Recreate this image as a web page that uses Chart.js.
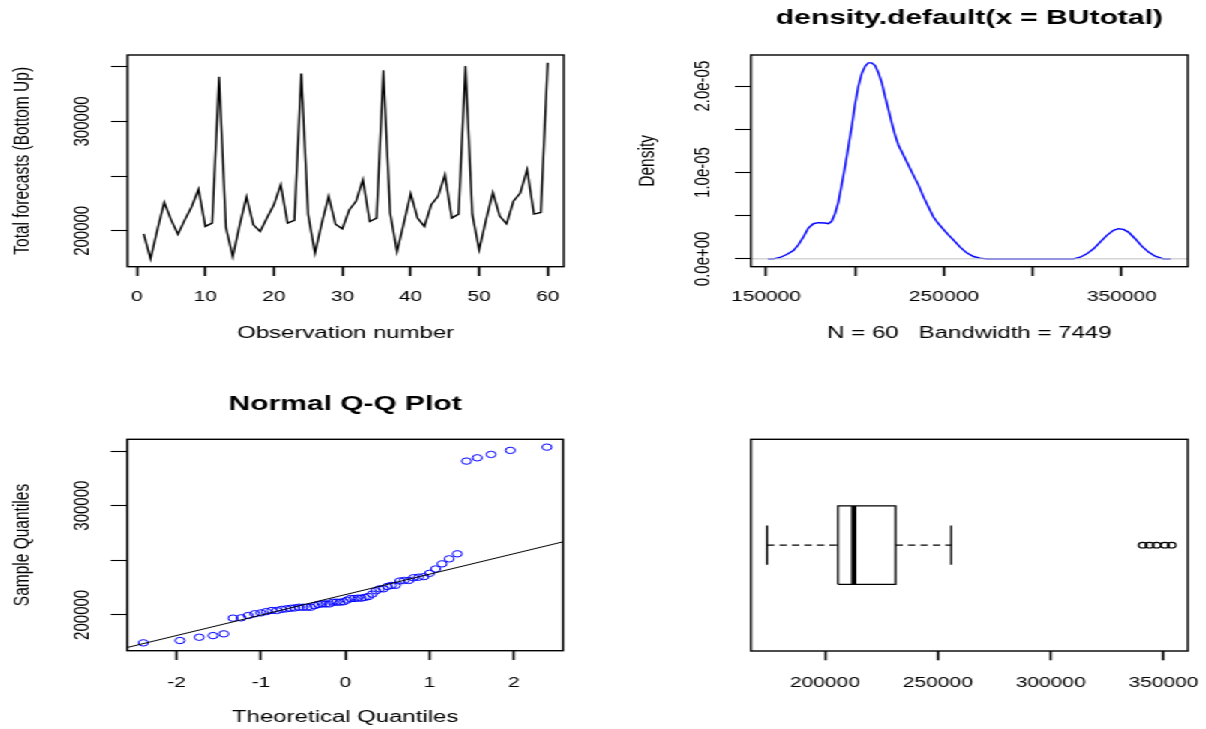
<!DOCTYPE html>
<html><head><meta charset="utf-8">
<script src="https://cdn.jsdelivr.net/npm/chart.js@4.4.1/dist/chart.umd.min.js"></script>
<style>
html,body{margin:0;padding:0;background:#fff;overflow:hidden;width:1206px;height:729px;}
#stage{position:absolute;left:0;top:0;width:804px;height:729px;transform:scaleX(1.5);transform-origin:0 0;}
#stage canvas{position:absolute;}
</style></head><body>
<div id="stage">
<canvas id="c1" width="402" height="364" style="left:0px;top:0px"></canvas>
<canvas id="c2" width="402" height="364" style="left:402px;top:0px"></canvas>
<canvas id="c3" width="402" height="365" style="left:0px;top:364px"></canvas>
<canvas id="c4" width="402" height="365" style="left:402px;top:364px"></canvas>
</div>
<script>
// ---------------- data ----------------
const observation = [1,2,3,4,5,6,7,8,9,10,11,12,13,14,15,16,17,18,19,20,21,22,23,24,25,26,27,28,29,30,
  31,32,33,34,35,36,37,38,39,40,41,42,43,44,45,46,47,48,49,50,51,52,53,54,55,56,57,58,59,60];
const buTotal = [197250,174350,201000,226000,210000,197000,210000,222000,238000,204000,
  207000,340800,203000,176500,205000,231000,205500,199400,212000,223800,
  242000,207000,209500,343800,215000,179500,207000,231500,206000,201800,
  219000,227000,246700,208500,211600,346900,216000,181000,207000,234000,
  211600,204000,223800,231500,251300,211600,215300,350600,215000,182600,
  210000,235000,213500,206400,227000,234500,255900,215300,216800,353600];

const densityX = [151000,154100,157900,161600,165400,168200,171000,173800,176600,179400,183200,185100,186900,188800,190700,
  192500,194400,196300,198200,200000,201900,203800,205700,207500,209400,211300,213200,215100,216900,218800,220700,
  222500,224400,227200,230000,232800,235700,238500,241300,244100,246900,249700,252500,255300,259100,262800,266600,
  270300,274100,322800,326600,330300,334100,337800,341600,345300,348100,350900,353700,357500,361200,365000,368700,
  373400,377500];
const densityY = [0,0,0.016e-5,0.05e-5,0.097e-5,0.163e-5,0.252e-5,0.357e-5,0.407e-5,0.419e-5,0.415e-5,0.407e-5,0.435e-5,0.524e-5,0.66e-5,
  0.854e-5,1.067e-5,1.30e-5,1.533e-5,1.785e-5,1.998e-5,2.146e-5,2.231e-5,2.27e-5,2.27e-5,2.239e-5,2.154e-5,2.037e-5,1.882e-5,1.727e-5,1.572e-5,
  1.436e-5,1.319e-5,1.203e-5,1.087e-5,0.97e-5,0.854e-5,0.718e-5,0.601e-5,0.485e-5,0.407e-5,0.341e-5,0.279e-5,0.221e-5,0.136e-5,0.07e-5,0.027e-5,
  0.008e-5,0,0,0.019e-5,0.058e-5,0.116e-5,0.194e-5,0.272e-5,0.33e-5,0.349e-5,0.341e-5,0.31e-5,0.233e-5,0.147e-5,0.078e-5,0.031e-5,
  0,0];

const qqTheoretical = [-2.394,-1.960,-1.732,-1.568,-1.440,-1.331,-1.235,-1.150,-1.073,-1.001,-0.935,-0.872,-0.812,-0.755,-0.701,
  -0.649,-0.598,-0.549,-0.501,-0.454,-0.408,-0.363,-0.319,-0.275,-0.232,-0.189,-0.147,-0.105,-0.063,-0.021,
  0.021,0.063,0.105,0.147,0.189,0.232,0.275,0.319,0.363,0.408,0.454,0.501,0.549,0.598,0.649,
  0.701,0.755,0.812,0.872,0.935,1.001,1.073,1.150,1.235,1.331,1.440,1.568,1.732,1.960,2.394];

const tsXTicks = [0,10,20,30,40,50,60];
const tsXLabels = ['0','10','20','30','40','50','60'];
const valueTicks = [200000,250000,300000,350000];
const valueLabelsSparse = ['200000','','300000',''];
const densXTicks = [150000,200000,250000,300000,350000];
const densXLabels = ['150000','','250000','','350000'];
const densXRange = [141500,387100];
const densYTicks = [0,0.5e-5,1e-5,1.5e-5,2e-5];
const densYLabels = ['0.0e+00','','1.0e-05','','2.0e-05'];
const qqXTicks = [-2,-1,0,1,2];
const qqXLabels = ['-2','-1','0','1','2'];
const boxXTicks = [200000,250000,300000,350000];
const boxXLabels = ['200000','250000','300000','350000'];

// ---------------- style ----------------
const FONT = "'Liberation Sans', Arial, sans-serif";
Chart.defaults.font.family = FONT;
Chart.defaults.color = '#000';
const TICK_Y = 15, TICK_X = 14, TITLE_Y = 15.5, TITLE_X = 16, MAIN = 20;

function rRange(arr){ let mn=Math.min(...arr), mx=Math.max(...arr); const d=(mx-mn)*0.04; return [mn-d, mx+d]; }
function widest(labels,size){ const c=document.createElement('canvas').getContext('2d'); c.font=size+'px '+FONT; return Math.max(...labels.map(l=>c.measureText(l).width)); }

function yAxis(o){
  const pad = o.labelDist - o.tl - widest(o.labels, TICK_Y)/2;
  return {
    type:'linear', position:'left', min:o.range[0], max:o.range[1], display:o.display!==false,
    afterBuildTicks:s=>{ s.ticks = o.ticks.map(v=>({value:v})); },
    afterFit:s=>{ s.width=o.width; s.paddingTop=0; s.paddingBottom=0; s.paddingLeft=0; s.paddingRight=0; },
    ticks:{ autoSkip:false, minRotation:90, maxRotation:90, crossAlign:'center', padding:pad,
      font:{size:TICK_Y}, color:'#000', callback:(v,i)=>o.labels[i] },
    grid:{ display:true, drawOnChartArea:false, drawTicks:true, tickLength:o.tl, tickColor:'#000', tickWidth:1.1 },
    border:{ display:false },
    title:{ display:!!o.title, text:o.title||'', color:'#000', font:{size:TITLE_Y}, padding:{top:o.titlePad, bottom:0} }
  };
}
function xAxis(o){
  return {
    type:'linear', position:'bottom', min:o.range[0], max:o.range[1],
    afterBuildTicks:s=>{ s.ticks = o.ticks.map(v=>({value:v})); },
    afterFit:s=>{ s.height=o.height; s.paddingTop=0; s.paddingBottom=0; s.paddingLeft=0; s.paddingRight=0; },
    ticks:{ autoSkip:false, minRotation:0, maxRotation:0, padding:o.pad, font:{size:TICK_X}, color:'#000',
      callback:(v,i)=>o.labels[i] },
    grid:{ display:true, drawOnChartArea:false, drawTicks:true, tickLength:o.tl, tickColor:'#000', tickWidth:1.6 },
    border:{ display:false },
    title:{ display:!!o.title, text:o.title||'', color:'#000', font:{size:TITLE_X}, padding:{top:0, bottom:o.titlePad} }
  };
}
const framePlugin = { id:'frame', afterDraw(chart){ const {ctx, chartArea:a}=chart; ctx.save(); ctx.strokeStyle='#000'; ctx.lineWidth=1.4;
  ctx.strokeRect(a.left,a.top,a.right-a.left,a.bottom-a.top); ctx.restore(); } };
function baseOptions(padding, title){
  return { responsive:false, animation:false, devicePixelRatio:1,
    layout:{ padding, autoPadding:false },
    plugins:{ legend:{display:false}, tooltip:{enabled:false},
      title: title ? { display:true, text:title.text, color:'#000', font:{size:MAIN, weight:'bold'}, fullSize:false,
        padding:{top:title.top, bottom:title.bottom} } : {display:false} },
    events:[] };
}

const valueRange = rRange(buTotal);
const sortedBU = [...buTotal].sort((a,b)=>a-b);

// ---------------- panel 1: time series ----------------
new Chart(document.getElementById('c1'), {
  type:'scatter',
  data:{ datasets:[{ data: observation.map((x,i)=>({x, y:buTotal[i]})), showLine:true, borderColor:'#000', borderWidth:1.4,
    pointRadius:0, pointHoverRadius:0, tension:0 }] },
  options: Object.assign(baseOptions({left:0,right:26,top:55,bottom:0}), {
    scales:{
      x: xAxis({ range:rRange(observation), ticks:tsXTicks, labels:tsXLabels, height:97.3, tl:9.3, pad:12.6,
        title:'Observation number', titlePad:20.4 }),
      y: yAxis({ range:valueRange, ticks:valueTicks, labels:valueLabelsSparse, width:84.9, tl:11, labelDist:30.5,
        title:'Total forecasts (Bottom Up)', titlePad:5.1 })
    }}),
  plugins:[framePlugin]
});

// ---------------- panel 2: density ----------------
const zeroLine = { id:'zero', afterDatasetsDraw(chart){ const {ctx, chartArea:a, scales}=chart; const y=scales.y.getPixelForValue(0);
  ctx.save(); ctx.strokeStyle='#bebebe'; ctx.lineWidth=1; ctx.beginPath(); ctx.moveTo(a.left,y); ctx.lineTo(a.right,y); ctx.stroke(); ctx.restore(); } };
const densYRange = (()=>{ const mx=Math.max(...densityY); return [-mx*0.04, mx*1.04]; })();
new Chart(document.getElementById('c2'), {
  type:'scatter',
  data:{ datasets:[{ data: densityX.map((x,i)=>({x, y:densityY[i]})), showLine:true, borderColor:'#0000ff', borderWidth:1.4,
    pointRadius:0, pointHoverRadius:0, tension:0 }] },
  options: Object.assign(baseOptions({left:0,right:12,top:0,bottom:0}, {text:'density.default(x = BUtotal)', top:6, bottom:25}), {
    scales:{
      x: xAxis({ range:densXRange, ticks:densXTicks, labels:densXLabels, height:97.3, tl:9.3, pad:12.6,
        title:'N = 60   Bandwidth = 7449', titlePad:20.4 }),
      y: yAxis({ range:densYRange, ticks:densYTicks, labels:densYLabels, width:98.7, tl:10.7, labelDist:31.8,
        title:'Density', titlePad:20.9 })
    }}),
  plugins:[zeroLine, framePlugin]
});

// ---------------- panel 3: normal Q-Q ----------------
function quantile7(s,p){ const h=(s.length-1)*p, lo=Math.floor(h), hi=Math.ceil(h); return s[lo]+(h-lo)*(s[hi]-s[lo]); }
const qqLine = { id:'qqline', afterDatasetsDraw(chart){
  const {ctx, chartArea:a, scales:{x,y}}=chart;
  const q1=quantile7(sortedBU,0.25), q3=quantile7(sortedBU,0.75), z=0.6744898;
  const slope=(q3-q1)/(2*z), icpt=q1+z*slope;
  ctx.save(); ctx.beginPath(); ctx.rect(a.left,a.top,a.right-a.left,a.bottom-a.top); ctx.clip();
  ctx.strokeStyle='#000'; ctx.lineWidth=1; ctx.beginPath();
  ctx.moveTo(x.getPixelForValue(x.min), y.getPixelForValue(icpt+slope*x.min));
  ctx.lineTo(x.getPixelForValue(x.max), y.getPixelForValue(icpt+slope*x.max));
  ctx.stroke(); ctx.restore(); } };
new Chart(document.getElementById('c3'), {
  type:'scatter',
  data:{ datasets:[{ data: qqTheoretical.map((x,i)=>({x, y:sortedBU[i]})), showLine:false, pointStyle:'circle',
    pointRadius:3.2, pointHoverRadius:3.2, borderColor:'#0000ff', backgroundColor:'rgba(0,0,0,0)', borderWidth:1 }] },
  options: Object.assign(baseOptions({left:0,right:26.5,top:0,bottom:0}, {text:'Normal Q-Q Plot', top:28.5, bottom:22.8}), {
    scales:{
      x: xAxis({ range:rRange(qqTheoretical), ticks:qqXTicks, labels:qqXLabels, height:78.3, tl:9.3, pad:14.6,
        title:'Theoretical Quantiles', titlePad:1.4 }),
      y: yAxis({ range:valueRange, ticks:valueTicks, labels:valueLabelsSparse, width:84.7, tl:11, labelDist:29.9,
        title:'Sample Quantiles', titlePad:5.7 })
    }}),
  plugins:[qqLine, framePlugin]
});

// ---------------- panel 4: boxplot ----------------
function fivenum(s){ const n=s.length, n4=Math.floor((n+3)/2)/2; const d=[1,n4,(n+1)/2,n+1-n4,n];
  return d.map(v=>0.5*(s[Math.floor(v)-1]+s[Math.ceil(v)-1])); }
const fv = fivenum(sortedBU);
const iqr = fv[3]-fv[1];
const inside = sortedBU.filter(v=>v>=fv[1]-1.5*iqr && v<=fv[3]+1.5*iqr);
const whiskLo = Math.min(...inside), whiskHi = Math.max(...inside);
const outliers = sortedBU.filter(v=>v<fv[1]-1.5*iqr || v>fv[3]+1.5*iqr);
const BOX_HALF = 0.2, STAPLE_HALF = 0.1, AT = 1;
const seg = (pts, extra)=>Object.assign({ data:pts, showLine:true, borderColor:'#000', borderWidth:1.3, pointRadius:0, pointHoverRadius:0, tension:0 }, extra||{});
new Chart(document.getElementById('c4'), {
  type:'scatter',
  data:{ datasets:[
    seg([{x:whiskLo,y:AT},{x:fv[1],y:AT}], {borderDash:[4.9,3.4]}),
    seg([{x:fv[3],y:AT},{x:whiskHi,y:AT}], {borderDash:[4.9,3.4]}),
    seg([{x:whiskLo,y:AT-STAPLE_HALF},{x:whiskLo,y:AT+STAPLE_HALF}]),
    seg([{x:whiskHi,y:AT-STAPLE_HALF},{x:whiskHi,y:AT+STAPLE_HALF}]),
    seg([{x:fv[1],y:AT-BOX_HALF},{x:fv[3],y:AT-BOX_HALF},{x:fv[3],y:AT+BOX_HALF},{x:fv[1],y:AT+BOX_HALF},{x:fv[1],y:AT-BOX_HALF}]),
    seg([{x:fv[2],y:AT-BOX_HALF},{x:fv[2],y:AT+BOX_HALF}], {borderWidth:3.5, borderCapStyle:'butt'}),
    { data: outliers.map(v=>({x:v, y:AT})), showLine:false, pointStyle:'circle', pointRadius:2.8, pointHoverRadius:2.8,
      borderColor:'#000', backgroundColor:'rgba(0,0,0,0)', borderWidth:1.1 }
  ]},
  options: Object.assign(baseOptions({left:98.7,right:12,top:75.3,bottom:0}), {
    scales:{
      x: xAxis({ range:valueRange, ticks:boxXTicks, labels:boxXLabels, height:78, tl:9.3, pad:14.3, titlePad:0 }),
      y: { type:'linear', display:false, min:0.46, max:1.54 }
    }}),
  plugins:[framePlugin]
});
</script>
</body></html>
